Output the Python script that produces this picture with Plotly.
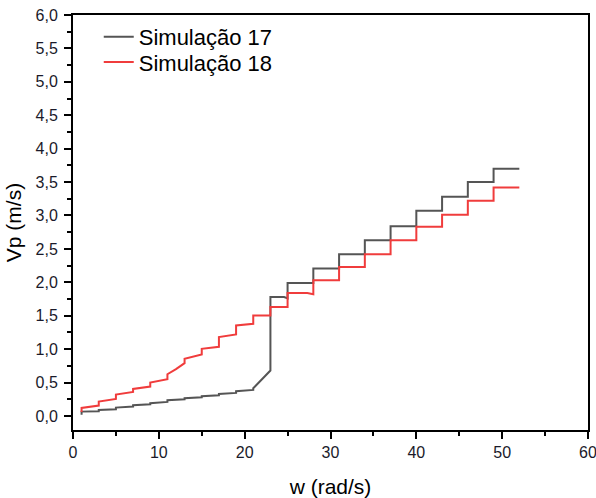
import plotly.graph_objects as go

# Simulação 17 (gray)
w17 = [1, 1, 3, 3, 5, 5, 7, 7, 9, 9, 11, 11, 13, 13, 15, 15, 17, 17, 19, 19, 21, 21,
       23, 23, 24.6, 25, 25, 28, 28, 31, 31, 34, 34, 37, 37, 40, 40, 43, 43, 46, 46, 49, 49, 52]
vp17 = [0.02, 0.065, 0.07, 0.09, 0.10, 0.125, 0.14, 0.16, 0.175, 0.19, 0.21, 0.235, 0.25, 0.265,
        0.28, 0.295, 0.31, 0.33, 0.345, 0.37, 0.39, 0.415,
        0.68, 1.78, 1.78, 1.76, 1.99, 1.99, 2.205, 2.205, 2.42, 2.42, 2.63, 2.63, 2.84, 2.84,
        3.07, 3.07, 3.28, 3.28, 3.50, 3.50, 3.70, 3.70]

# Simulação 18 (red)
w18 = [1, 1, 3, 3, 5, 5, 7, 7, 9, 9, 11, 11, 12, 13, 13, 15, 15, 17, 17, 19, 19, 21, 21,
       23, 23, 25, 25, 27.3, 28, 28, 31, 31, 34, 34, 37, 37, 40, 40, 43, 43, 46, 46, 49, 49, 52]
vp18 = [0.06, 0.12, 0.155, 0.215, 0.255, 0.32, 0.36, 0.405, 0.44, 0.50, 0.55, 0.625, 0.70,
        0.79, 0.855, 0.92, 1.005, 1.035, 1.18, 1.22, 1.355, 1.38, 1.505,
        1.505, 1.63, 1.63, 1.84, 1.84, 1.82, 2.03, 2.03, 2.23, 2.23, 2.42, 2.42, 2.63, 2.63,
        2.83, 2.83, 3.01, 3.01, 3.22, 3.22, 3.42, 3.42]

names = ["Simulação 17", "Simulação 18"]
x_title = "w (rad/s)"
y_title = "Vp (m/s)"

FONT = "Liberation Sans, Arial, sans-serif"

fig = go.Figure()
fig.add_trace(go.Scatter(x=w17, y=vp17, mode="lines", name=names[0],
                         line=dict(color="#555555", width=2), legend="legend"))
fig.add_trace(go.Scatter(x=w18, y=vp18, mode="lines", name=names[1],
                         line=dict(color="#F03C3C", width=2), legend="legend2"))

axis_common = dict(
    showline=True, linecolor="black", linewidth=2, mirror=True,
    ticks="outside", ticklen=7, tickwidth=2, tickcolor="black",
    showgrid=False, zeroline=False, automargin=False,
    ticklabeloverflow="allow",
    tickfont=dict(family=FONT, size=16, color="#1a1a2a"),
    title_font=dict(family=FONT, size=21, color="black"),
)

fig.update_xaxes(range=[0, 60], dtick=10, tick0=0,
                 minor=dict(ticks="outside", ticklen=4, tickwidth=2, dtick=5, tickcolor="black"),
                 title_text=x_title, title_standoff=20, **axis_common)
fig.update_yaxes(range=[-0.21, 6.0], dtick=0.5, tick0=0, tickformat=".1f",
                 ticklabelstandoff=3,
                 minor=dict(ticks="outside", ticklen=4, tickwidth=2, dtick=0.25, tickcolor="black"),
                 title_text=y_title, title_standoff=8, **axis_common)

leg_common = dict(xanchor="left", yanchor="middle", bgcolor="rgba(0,0,0,0)", borderwidth=0,
                  font=dict(family=FONT, size=22, color="black"))

fig.update_layout(
    width=596, height=498,
    margin=dict(l=73, r=8, t=15, b=68),
    paper_bgcolor="white", plot_bgcolor="white",
    separators=", ",
    font=dict(family=FONT, color="black"),
    legend=dict(x=0.05, y=0.947, **leg_common),
    legend2=dict(x=0.05, y=0.886, **leg_common),
    showlegend=True,
)

fig.write_html("out.html",
               config={"displayModeBar": False},
               post_script="document.body.style.margin='0px';document.body.style.padding='0px';")
